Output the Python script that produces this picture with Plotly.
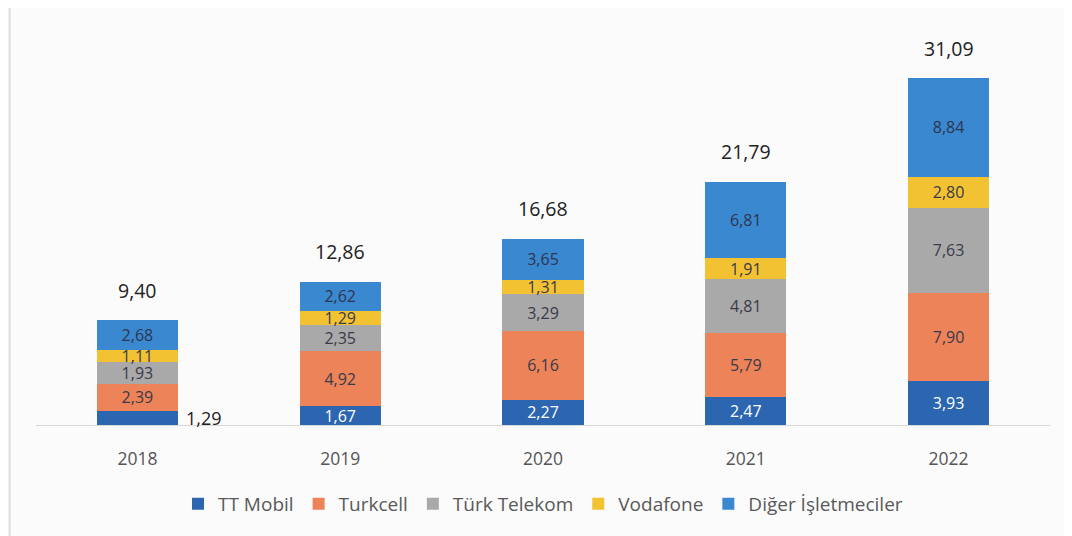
import plotly.graph_objects as go

years = ["2018", "2019", "2020", "2021", "2022"]
tt_mobil = [1.29, 1.67, 2.27, 2.47, 3.93]
turkcell = [2.39, 4.92, 6.16, 5.79, 7.90]
turk_telekom = [1.93, 2.35, 3.29, 4.81, 7.63]
vodafone = [1.11, 1.29, 1.31, 1.91, 2.80]
diger = [2.68, 2.62, 3.65, 6.81, 8.84]
totals = [9.40, 12.86, 16.68, 21.79, 31.09]

series = [
    ("TT Mobil", tt_mobil, "#2c66b0", "white"),
    ("Turkcell", turkcell, "#ec8359", "#3a3a4a"),
    ("Türk Telekom", turk_telekom, "#a9a9a9", "#3a3a4a"),
    ("Vodafone", vodafone, "#f3c232", "#3a3a4a"),
    ("Diğer İşletmeciler", diger, "#3a88d0", "#2e3550"),
]

def fmt(v):
    return f"{v:.2f}".replace(".", ",")

FONT = "Open Sans"

fig = go.Figure()
for name, vals, color, tcol in series:
    texts = [fmt(v) for v in vals]
    if name == "TT Mobil":
        texts[0] = ""  # 2018 label drawn outside the bar
    fig.add_trace(go.Bar(
        x=years, y=vals, name=name, marker=dict(color=color, line=dict(width=0)),
        text=texts, textposition="inside", insidetextanchor="middle",
        textangle=0, constraintext="none",
        textfont=dict(color=tcol, size=16, family=FONT),
        hoverinfo="skip",
    ))

# totals above each stack
for i, t in enumerate(totals):
    fig.add_annotation(x=i, y=t, text=fmt(t), showarrow=False, yanchor="middle",
                       yshift=30, font=dict(size=19.5, color="#222222", family=FONT))

# 2018 TT Mobil label sits to the right of its bar
fig.add_annotation(x=years.index("2018"), y=tt_mobil[0] / 2, text=fmt(tt_mobil[0]),
                   showarrow=False, xanchor="left", xshift=47,
                   font=dict(size=18, color="#222222", family=FONT))

fig.update_layout(
    barmode="stack", bargap=0.6,
    width=1072, height=536,
    margin=dict(l=27.5, r=29.5, t=2, b=119),
    paper_bgcolor="#fbfbfb", plot_bgcolor="#fbfbfb",
    uniformtext=dict(mode=False),
    xaxis=dict(type="category", range=[-0.5, len(years) - 0.5], showline=True,
               linecolor="#d9d9d9", linewidth=1, ticks="", ticklabelstandoff=18,
               tickfont=dict(size=17.5, color="#555555", family=FONT), showgrid=False),
    yaxis=dict(visible=False, range=[0, 37.2], showgrid=False),
    legend=dict(orientation="h", x=0.5, xanchor="center", y=-0.19, yanchor="middle",
                font=dict(size=19, color="#595959", family=FONT),
                itemwidth=30, traceorder="normal"),
    showlegend=True,
)
fig.add_shape(type="line", xref="paper", yref="paper", x0=-0.026, x1=-0.026, y0=-0.3, y1=1.05,
              line=dict(color="#dddddd", width=2))
fig.write_html("out.html")
